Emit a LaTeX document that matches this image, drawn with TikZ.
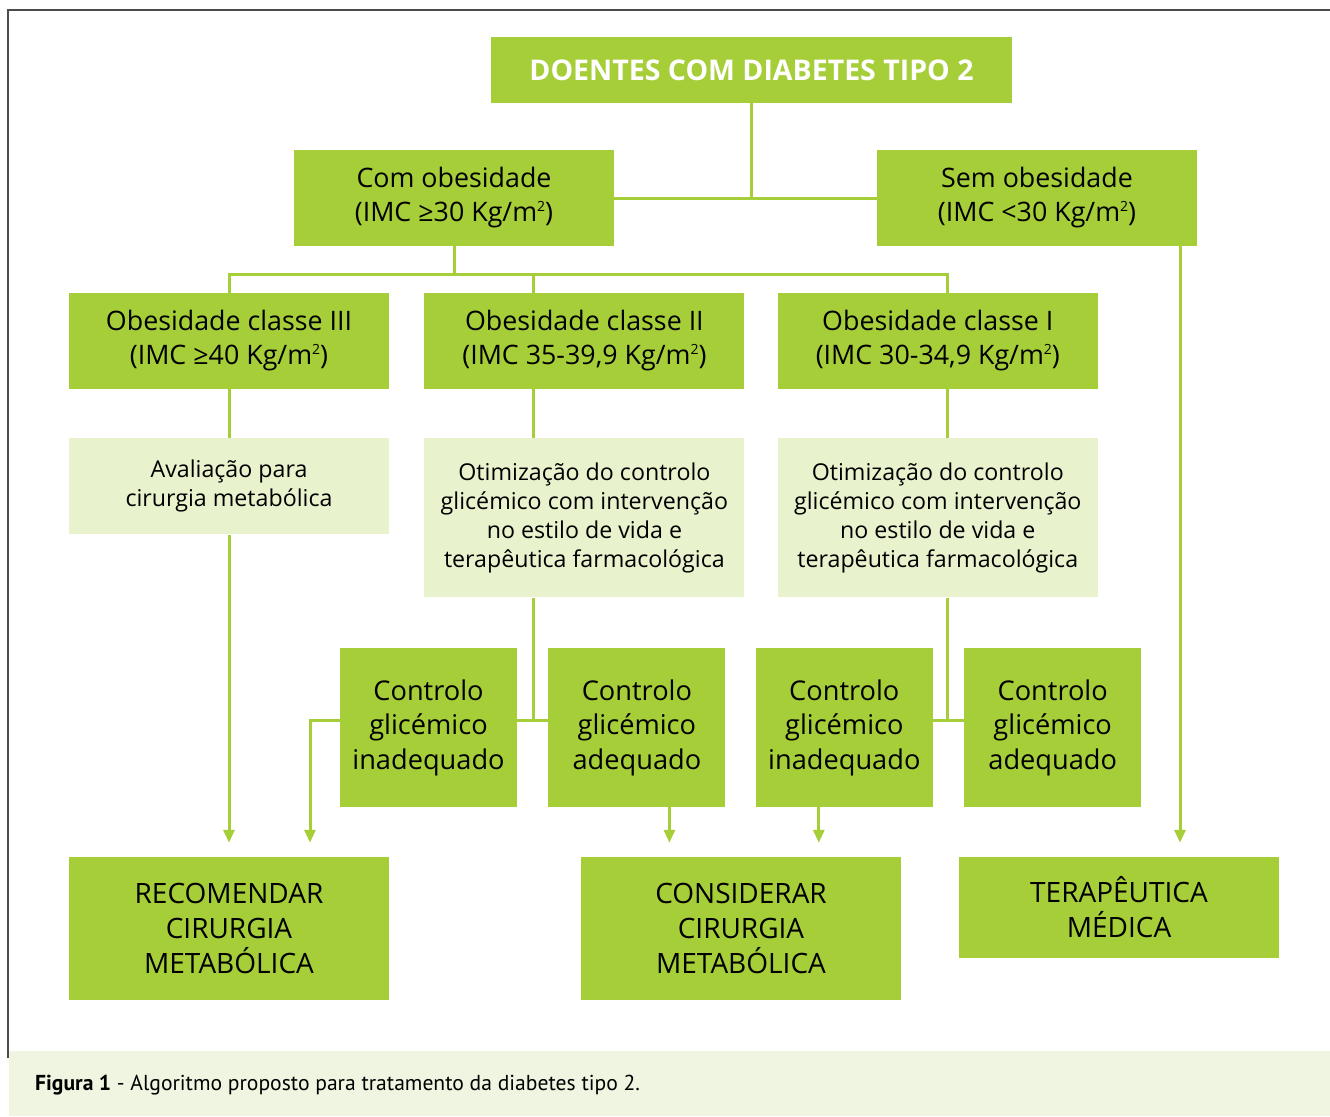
\documentclass[tikz,border=0pt]{standalone}
\usepackage{fontspec}
\setmainfont{Open Sans}
\newfontfamily\capfont{PT Sans}
\usetikzlibrary{arrows.meta, calc, positioning}
\definecolor{leaf}{HTML}{A6CE39}
\definecolor{pale}{HTML}{E8F2CD}
\definecolor{band}{HTML}{EFF5E0}
\newcommand{\sqm}{m\raisebox{0.75ex}{\fontsize{14}{14}\selectfont 2}}

\begin{document}
\begin{tikzpicture}[x=1pt, y=-1pt, >={Triangle[width=11pt,length=13pt]}]
	\tikzstyle{box} = [fill=leaf, inner sep=0pt, align=center, font=\fontsize{26.8}{34}\selectfont]
	\tikzstyle{wide} = [box, minimum width=320pt, minimum height=96pt]
	\tikzstyle{soft} = [wide, fill=pale, font=\fontsize{23.2}{29}\selectfont]
	\tikzstyle{ctrl} = [box, minimum width=177pt, minimum height=159pt, font=\fontsize{27.2}{34.5}\selectfont]
	\tikzstyle{final} = [box, minimum width=320pt, minimum height=143pt, font=\fontsize{28}{35}\selectfont]
	\tikzstyle{link} = [draw=leaf, line width=3pt]
	\tikzstyle{gap} = [->, shorten >=14pt]

	\useasboundingbox (0,0) rectangle (1330,1116);
	\fill[band] (9,1051) rectangle (1330,1116);
	\draw[black!70, line width=1.2pt] (8,1058) -- (8,10) -- (1330,10);

	\node[box, minimum width=521pt, minimum height=66pt, text=white, font=\bfseries\fontsize{28.5}{30}\selectfont] (top) at (751.5,70) {DOENTES COM DIABETES TIPO 2};
	\node[wide] (com) at (454,198) {Com obesidade\\(IMC ≥30 Kg/\sqm)};
	\node[wide] (sem) at (1037,198) {Sem obesidade\\(IMC <30 Kg/\sqm)};

	\node[wide] (c3) at (229,341) {Obesidade classe III\\(IMC ≥40 Kg/\sqm)};
	\node[wide, right=35pt of c3] (c2) {Obesidade classe II\\(IMC 35-39,9 Kg/\sqm)};
	\node[wide, right=33pt of c2] (c1) {Obesidade classe I\\(IMC 30-34,9 Kg/\sqm)};

	\node[soft, below=49pt of c3] (aval) {Avaliação para\\cirurgia metabólica};
	\node[soft, minimum height=159pt, below=49pt of c2] (otim2) {Otimização do controlo\\glicémico com intervenção\\no estilo de vida e\\terapêutica farmacológica};
	\node[soft, minimum height=159pt, below=49pt of c1] (otim1) {Otimização do controlo\\glicémico com intervenção\\no estilo de vida e\\terapêutica farmacológica};

	\node[ctrl] (inad2) at (428.5,727.5) {Controlo\\glicémico\\inadequado};
	\node[ctrl, right=31pt of inad2] (adeq2) {Controlo\\glicémico\\adequado};
	\node[ctrl, right=30pt of adeq2] (inad1) {Controlo\\glicémico\\inadequado};
	\node[ctrl, right=31pt of inad1] (adeq1) {Controlo\\glicémico\\adequado};

	\node[final] (recom) at (229,928.5) {RECOMENDAR\\CIRURGIA\\METABÓLICA};
	\node[final] (consid) at (741,928.5) {CONSIDERAR\\CIRURGIA\\METABÓLICA};
	\node[final, minimum height=101pt] (terap) at (1119,907.5) {TERAPÊUTICA\\MÉDICA};

	\draw[link] (top.south) -- (top.south |- com.east);
	\draw[link] (com.east) -- (sem.west);
	\draw[link] (com.south) -- ++(0,28) coordinate (fork);
	\draw[link] (c3.north) |- (fork) -| ([xshift=10pt]c1.north);
	\draw[link] ([xshift=-51pt]c2.north) -- ([xshift=-51pt]c2.north |- fork);

	\draw[link] (c3.south) -- (aval.north);
	\draw[link] ([xshift=-51pt]c2.south) -- ([xshift=-51pt]otim2.north);
	\draw[link] ([xshift=10pt]c1.south) -- ([xshift=10pt]otim1.north);

	\draw[link] ([xshift=-51pt]otim2.south) -- ++(0,123) coordinate (split2);
	\draw[link] (inad2.east |- split2) -- (adeq2.west |- split2);
	\draw[link] ([xshift=10pt]otim1.south) -- ++(0,123) coordinate (split1);
	\draw[link] (inad1.east |- split1) -- (adeq1.west |- split1);

	\draw[link, gap] (aval.south) -- (aval.south |- recom.north);
	\draw[link, gap] (inad2.west |- split2) -| ([xshift=81pt]recom.north);
	\draw[link, gap] ([xshift=32.5pt]adeq2.south) -- ([xshift=32.5pt]adeq2.south |- consid.north);
	\draw[link, gap] ([xshift=-25.5pt]inad1.south) -- ([xshift=-25.5pt]inad1.south |- consid.north);
	\draw[link, gap] ([xshift=143pt]sem.south) -- ([xshift=143pt]sem.south |- terap.north);

	\node[anchor=west, inner sep=0pt, font=\capfont\fontsize{21.6}{24}\selectfont] (cap) at (35,1085) {\textbf{Figura 1} - Algoritmo proposto para tratamento da diabetes tipo 2.};
\end{tikzpicture}
\end{document}
